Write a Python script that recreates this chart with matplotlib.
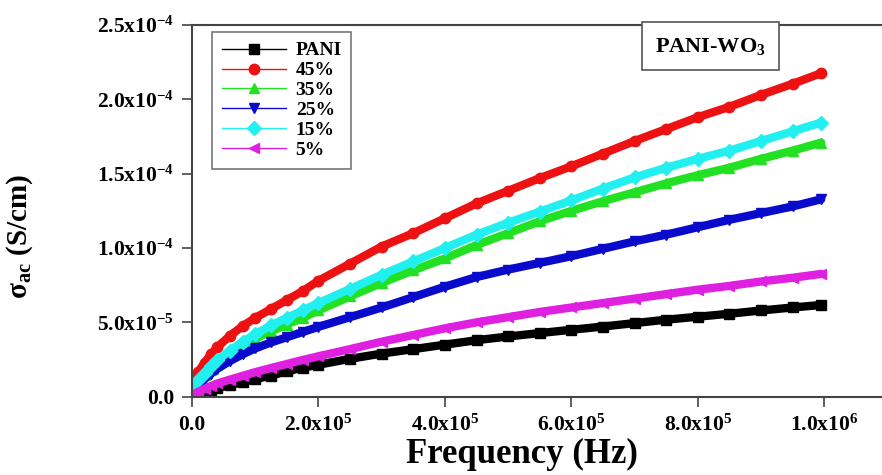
import matplotlib
matplotlib.use("Agg")
import matplotlib.pyplot as plt
from matplotlib.ticker import FixedLocator

plt.rcParams['font.family'] = ['Liberation Serif', 'DejaVu Serif']
plt.rcParams['font.weight'] = 'bold'
plt.rcParams['mathtext.fontset'] = 'custom'
plt.rcParams['mathtext.rm'] = 'Liberation Serif:bold'
plt.rcParams['mathtext.it'] = 'Liberation Serif:bold'
plt.rcParams['mathtext.bf'] = 'Liberation Serif:bold'
plt.rcParams['mathtext.default'] = 'rm'

freq = [2e3, 1e4, 2e4, 3e4, 4e4, 6e4, 8e4, 1e5, 1.25e5, 1.5e5, 1.75e5, 2e5,
        2.5e5, 3e5, 3.5e5, 4e5, 4.5e5, 5e5, 5.5e5, 6e5, 6.5e5, 7e5, 7.5e5,
        8e5, 8.5e5, 9e5, 9.5e5, 9.95e5]

# sigma_ac in S/cm
pani = [1.0e-6, 2.3e-6, 3.6e-6, 4.7e-6, 5.7e-6, 7.8e-6, 9.8e-6, 1.18e-5, 1.42e-5,
        1.7e-5, 1.95e-5, 2.15e-5, 2.55e-5, 2.9e-5, 3.2e-5, 3.5e-5, 3.8e-5, 4.05e-5,
        4.28e-5, 4.5e-5, 4.72e-5, 4.95e-5, 5.18e-5, 5.38e-5, 5.58e-5, 5.8e-5,
        6.0e-5, 6.17e-5]
p45 = [6.0e-6, 1.68e-5, 2.3e-5, 2.85e-5, 3.33e-5, 4.1e-5, 4.75e-5, 5.3e-5, 5.9e-5,
       6.5e-5, 7.1e-5, 7.8e-5, 8.95e-5, 1.01e-4, 1.1e-4, 1.2e-4, 1.3e-4, 1.385e-4,
       1.47e-4, 1.55e-4, 1.635e-4, 1.72e-4, 1.8e-4, 1.88e-4, 1.95e-4, 2.03e-4,
       2.105e-4, 2.176e-4]
p35 = [5.0e-6, 1.0e-5, 1.45e-5, 1.8e-5, 2.15e-5, 2.8e-5, 3.4e-5, 3.9e-5, 4.4e-5,
       4.85e-5, 5.3e-5, 5.8e-5, 6.75e-5, 7.65e-5, 8.5e-5, 9.3e-5, 1.02e-4, 1.1e-4,
       1.18e-4, 1.25e-4, 1.315e-4, 1.375e-4, 1.435e-4, 1.49e-4, 1.54e-4, 1.6e-4,
       1.655e-4, 1.709e-4]
p25 = [4.0e-6, 7.9e-6, 1.2e-5, 1.55e-5, 1.88e-5, 2.4e-5, 2.85e-5, 3.25e-5, 3.65e-5,
       4.0e-5, 4.35e-5, 4.7e-5, 5.35e-5, 6.0e-5, 6.7e-5, 7.4e-5, 8.05e-5, 8.55e-5,
       9.0e-5, 9.45e-5, 9.95e-5, 1.045e-4, 1.09e-4, 1.14e-4, 1.19e-4, 1.235e-4,
       1.28e-4, 1.328e-4]
p15 = [6.0e-6, 1.12e-5, 1.6e-5, 2.05e-5, 2.45e-5, 3.1e-5, 3.7e-5, 4.2e-5, 4.8e-5,
       5.3e-5, 5.8e-5, 6.3e-5, 7.25e-5, 8.2e-5, 9.1e-5, 1.0e-4, 1.09e-4, 1.17e-4,
       1.245e-4, 1.32e-4, 1.4e-4, 1.475e-4, 1.54e-4, 1.6e-4, 1.655e-4, 1.72e-4,
       1.785e-4, 1.844e-4]
p5 = [1.5e-6, 3.4e-6, 5.3e-6, 7.2e-6, 8.9e-6, 1.15e-5, 1.4e-5, 1.65e-5, 1.93e-5,
      2.2e-5, 2.47e-5, 2.72e-5, 3.2e-5, 3.7e-5, 4.15e-5, 4.6e-5, 5.0e-5, 5.35e-5,
      5.7e-5, 6.0e-5, 6.3e-5, 6.6e-5, 6.9e-5, 7.2e-5, 7.45e-5, 7.75e-5, 8.0e-5,
      8.26e-5]

series = [("PANI", pani, "black", "s"),
          ("45%", p45, "#EE1111", "o"),
          ("35%", p35, "#22E022", "^"),
          ("25%", p25, "#0A0ACC", "v"),
          ("15%", p15, "#22F0F0", "D"),
          ("5%", p5, "#E020E0", "<")]

xticks = [0, 2e5, 4e5, 6e5, 8e5, 1e6]
xlabels = ["0.0", "2.0x10$^{5}$", "4.0x10$^{5}$", "6.0x10$^{5}$", "8.0x10$^{5}$", "1.0x10$^{6}$"]
yticks = [0, 5e-5, 1e-4, 1.5e-4, 2e-4, 2.5e-4]
ylabels = ["0.0", "5.0x10$^{-5}$", "1.0x10$^{-4}$", "1.5x10$^{-4}$", "2.0x10$^{-4}$", "2.5x10$^{-4}$"]

fig = plt.figure(figsize=(8.82, 4.75), dpi=100)
ax = fig.add_axes([192 / 882, 78.3 / 475, 700 / 882, 371.7 / 475])

for name, vals, col, mk in series:
    ax.plot(freq, vals, color=col, lw=6, solid_capstyle="round")
    ax.plot(freq, vals, color=col, lw=1, marker=mk, ms=7.5, label=name)

ax.set_xlim(0, 1.107e6)
ax.set_ylim(0, 2.5e-4)
ax.xaxis.set_major_locator(FixedLocator(xticks))
ax.set_xticklabels(xlabels)
ax.yaxis.set_major_locator(FixedLocator(yticks))
ax.set_yticklabels(ylabels)
ax.tick_params(direction="out", length=7, width=1.2, labelsize=15.5, pad=6, color="#444444")

for s in ax.spines.values():
    s.set_color("#444444")
    s.set_linewidth(1.5)

ax.set_xlabel("Frequency (Hz)", fontsize=25, fontweight="bold")
ax.xaxis.set_label_coords(0.471, -0.11)
ax.set_ylabel("σ$_{ac}$ (S/cm)", fontsize=21, fontweight="bold")
ax.yaxis.set_label_coords(-0.225, 0.43)

leg = ax.legend(loc="upper left", bbox_to_anchor=(0.0286, 0.981), borderaxespad=0,
                fontsize=14, handlelength=3.3, labelspacing=0.12, handletextpad=0.5,
                fancybox=False, edgecolor="#555555", borderpad=0.5)
leg.get_frame().set_linewidth(1.2)

ax.text(0.741, 0.9435, "PANI-WO$_{3}$", transform=ax.transAxes, fontsize=16,
        fontweight="bold", ha="center", va="center",
        bbox=dict(boxstyle="square,pad=0.6", fc="white", ec="#555555", lw=1.2))

fig.savefig("out.png", dpi=100)
